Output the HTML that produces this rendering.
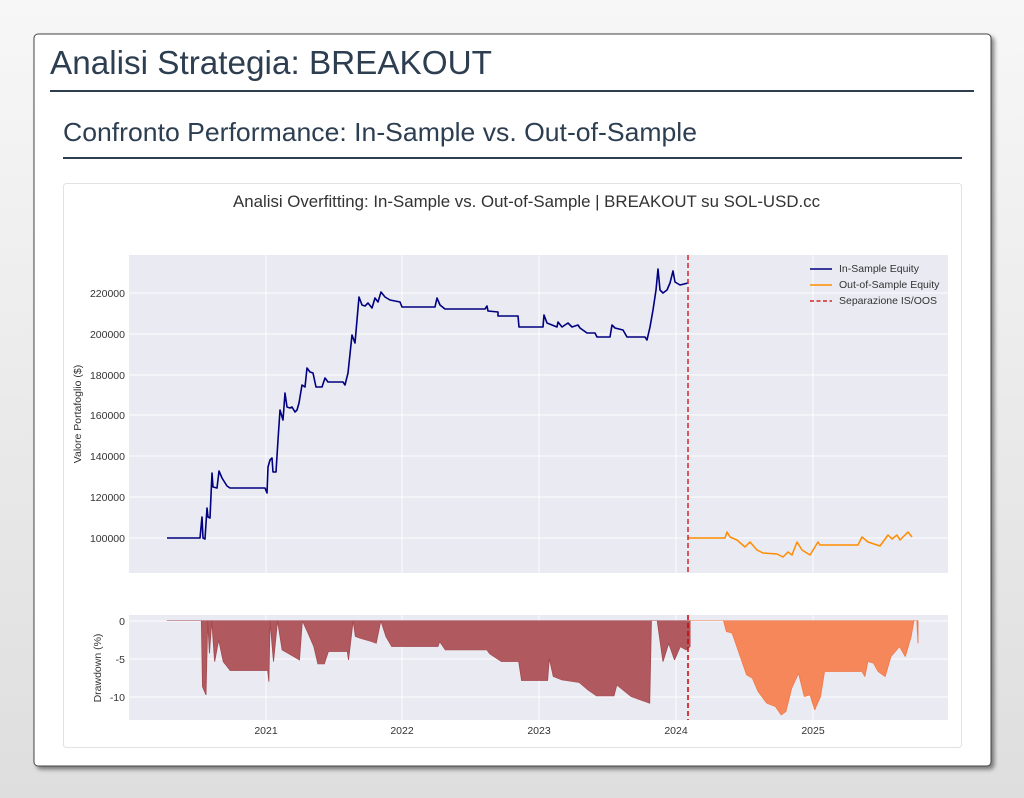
<!DOCTYPE html>
<html><head><meta charset="utf-8"><style>
html,body{margin:0;padding:0;width:1024px;height:798px;overflow:hidden;background:linear-gradient(#f7f7f7,#dedede);}
svg{display:block;font-family:"Liberation Sans",sans-serif;}
</style></head><body>
<svg width="1024" height="798" viewBox="0 0 1024 798" xmlns="http://www.w3.org/2000/svg">
<defs><filter id="sh" x="-5%" y="-5%" width="110%" height="110%"><feDropShadow dx="3" dy="3" stdDeviation="2" flood-color="#000" flood-opacity="0.45"/></filter></defs>
<rect x="34" y="34" width="957" height="732" rx="4" fill="#fff" stroke="#444" stroke-width="1" filter="url(#sh)"/>
<text x="50" y="74" font-size="33" fill="#2c3e50" textLength="442" lengthAdjust="spacingAndGlyphs">Analisi Strategia: BREAKOUT</text>
<rect x="50" y="90" width="924" height="2" fill="#2c3e50"/>
<text x="63" y="141" font-size="26" fill="#2c3e50" textLength="634" lengthAdjust="spacingAndGlyphs">Confronto Performance: In-Sample vs. Out-of-Sample</text>
<rect x="63" y="157" width="899" height="2" fill="#2c3e50"/>
<rect x="63.5" y="183.5" width="898" height="564" rx="3" fill="#fff" stroke="#e2e2e2"/>
<text x="233" y="207" font-size="16.5" fill="#333" textLength="587" lengthAdjust="spacingAndGlyphs">Analisi Overfitting: In-Sample vs. Out-of-Sample | BREAKOUT su SOL-USD.cc</text>

<rect x="129" y="255" width="819" height="318" fill="#eaeaf2"/>
<g stroke="#fff" stroke-width="1">
<line x1="129" x2="948" y1="538" y2="538"/><line x1="129" x2="948" y1="497" y2="497"/><line x1="129" x2="948" y1="456" y2="456"/><line x1="129" x2="948" y1="415" y2="415"/><line x1="129" x2="948" y1="375" y2="375"/><line x1="129" x2="948" y1="334" y2="334"/><line x1="129" x2="948" y1="293" y2="293"/>
<line x1="266" x2="266" y1="255" y2="573"/><line x1="402" x2="402" y1="255" y2="573"/><line x1="539" x2="539" y1="255" y2="573"/><line x1="676" x2="676" y1="255" y2="573"/><line x1="813" x2="813" y1="255" y2="573"/>
</g>
<g font-size="10.5" fill="#333" text-anchor="end">
<text x="125" y="542">100000</text><text x="125" y="501">120000</text><text x="125" y="460">140000</text><text x="125" y="419">160000</text><text x="125" y="379">180000</text><text x="125" y="338">200000</text><text x="125" y="297">220000</text>
</g>
<text transform="translate(81,414) rotate(-90)" font-size="10.5" fill="#333" text-anchor="middle">Valore Portafoglio ($)</text>
<polyline fill="none" stroke="#000080" stroke-width="1.6" stroke-linejoin="round" points="167,538 200,538 202,517 203,538 205,539 207,508 208,517 210,518 212,473 213,487 217,488 219,471 222,478 227,486 230,488 265,488 267,493 268,467 270,460 272,458 273,472 276,472 278,440 280,410 283,420 285,393 287,407 290,408 292,407 295,412 297,410 299,403 302,385 305,387 307,368 310,372 313,373 316,387 322,387 325,378 328,382 343,382 345,385 348,373 352,335 355,343 357,320 359,297 362,305 365,306 368,303 372,308 375,298 378,302 381,292 385,297 390,300 400,302 402,307 435,307 437,298 440,305 445,309 485,309 487,306 488,311 498,312 498,316 518,316 519,327 543,327 544,315 547,323 557,327 558,322 562,327 568,323 572,327 578,325 580,328 587,333 595,333 597,337 610,337 612,325 615,328 623,330 627,337 645,337 647,340 650,327 653,310 656,290 658,269 660,290 663,293 667,290 670,283 673,271 675,282 680,285 688,283"/>
<polyline fill="none" stroke="#ff8c00" stroke-width="1.5" stroke-linejoin="round" points="688,538 725,538 727,532 730,537 737,540 745,547 750,542 757,550 763,553 777,554 783,557 788,552 792,555 797,542 802,550 810,555 818,542 820,545 858,545 862,537 868,542 880,546 888,535 892,539 897,535 900,540 905,535 908,532 912,537"/>
<line x1="688" x2="688" y1="255" y2="573" stroke="#d62728" stroke-width="1.5" stroke-dasharray="5,3"/>
<line x1="810" x2="832" y1="269" y2="269" stroke="#000080" stroke-width="1.6"/>
<line x1="810" x2="832" y1="285" y2="285" stroke="#ff8c00" stroke-width="1.6"/>
<line x1="810" x2="832" y1="301" y2="301" stroke="#d62728" stroke-width="1.6" stroke-dasharray="4,2.5"/>
<g font-size="10.5" fill="#333"><text x="839" y="272">In-Sample Equity</text><text x="839" y="288">Out-of-Sample Equity</text><text x="839" y="304">Separazione IS/OOS</text></g>

<rect x="129" y="615" width="819" height="105" fill="#eaeaf2"/>
<g stroke="#fff" stroke-width="1">
<line x1="129" x2="948" y1="621" y2="621"/><line x1="129" x2="948" y1="659" y2="659"/><line x1="129" x2="948" y1="697" y2="697"/>
<line x1="266" x2="266" y1="615" y2="720"/><line x1="402" x2="402" y1="615" y2="720"/><line x1="539" x2="539" y1="615" y2="720"/><line x1="676" x2="676" y1="615" y2="720"/><line x1="813" x2="813" y1="615" y2="720"/>
</g>
<g transform="translate(60,600) scale(0.577,0.3333)">
<polygon fill="#b05a5f" stroke="#a34a50" stroke-width="1.5" points="185,62 245,62 247,260 253,285 256,62 259,160 263,62 268,185 275,120 283,185 295,212 360,212 362,245 364,62 370,185 377,62 385,150 395,160 410,175 415,180 420,62 430,100 440,140 447,192 458,192 465,155 498,155 500,180 508,62 512,110 520,115 540,125 548,130 556,62 565,110 575,140 655,140 658,125 668,150 740,150 745,162 765,185 795,185 800,242 845,242 848,175 855,230 870,240 900,248 915,270 930,288 960,288 965,255 990,290 1022,310 1025,62 1035,62 1045,185 1055,130 1065,180 1075,140 1085,150 1092,140 1092,62"/>
<polygon fill="#f5875a" stroke="#ee7a4a" stroke-width="1.5" points="1092,62 1150,62 1155,95 1165,100 1175,150 1190,225 1200,235 1210,275 1225,310 1240,320 1250,345 1258,335 1268,265 1280,220 1290,290 1300,285 1308,330 1318,290 1325,215 1390,215 1395,230 1400,185 1410,190 1418,215 1430,230 1440,170 1455,140 1465,170 1475,110 1480,62 1485,62 1487,130 1487,62"/>
</g>
<line x1="688" x2="688" y1="615" y2="720" stroke="#c00" stroke-width="1.5" stroke-dasharray="5,3"/>
<g font-size="10.5" fill="#333" text-anchor="end"><text x="125" y="625">0</text><text x="125" y="663">-5</text><text x="125" y="701">-10</text></g>
<text transform="translate(101,668) rotate(-90)" font-size="10.5" fill="#333" text-anchor="middle">Drawdown (%)</text>
<g font-size="10.5" fill="#333" text-anchor="middle"><text x="266" y="734">2021</text><text x="402" y="734">2022</text><text x="539" y="734">2023</text><text x="676" y="734">2024</text><text x="813" y="734">2025</text></g>
</svg>
</body></html>
